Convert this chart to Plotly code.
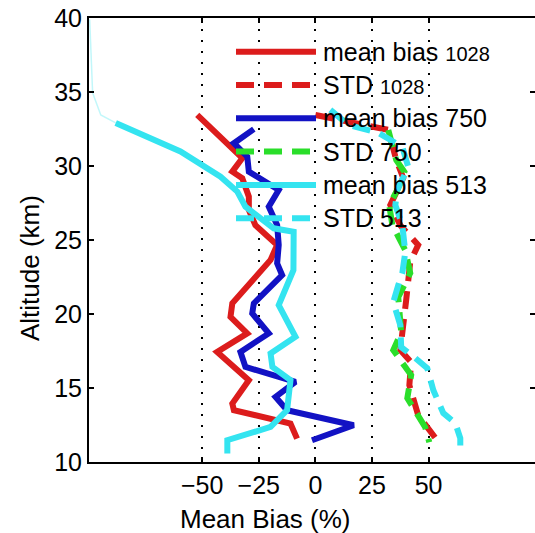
import plotly.graph_objects as go

# ---- data (altitude in km, bias/std in %) ----
mb1028_alt = [33.45, 30.53, 29.62, 29.17, 27.93, 27.03, 26.0, 24.66, 23.65, 20.72, 19.81, 18.69, 17.44, 15.53, 13.95, 13.5, 12.6, 11.58]
mb1028_val = [-52.2, -32.3, -36.7, -32.3, -29.4, -29.4, -26.5, -16.9, -19.8, -36.7, -37.5, -30.1, -43.4, -29.4, -36.7, -36.0, -11.0, -8.1]

std1028_alt = [33.45, 32.92, 32.44, 30.41, 29.2, 27.36, 26.0, 24.66, 23.52, 20.94, 17.56, 16.75, 15.19, 13.16, 12.14, 11.47]
std1028_val = [0.0, 15.4, 32.2, 35.7, 38.8, 33.1, 37.5, 45.4, 41.9, 40.1, 37.5, 42.3, 41.5, 45.4, 50.7, 53.8]

mb750_alt = [32.49, 31.54, 30.64, 29.62, 28.38, 27.25, 26.01, 24.66, 23.42, 22.63, 20.72, 20.04, 18.69, 17.44, 16.43, 15.41, 14.40, 13.50, 12.48, 11.47]
mb750_val = [-27.2, -36.0, -30.1, -29.4, -16.2, -20.6, -16.9, -16.2, -16.9, -14.7, -27.2, -27.9, -20.6, -33.1, -30.9, -8.8, -17.6, -12.5, 16.9, -1.5]

std750_alt = [32.44, 30.41, 29.6, 28.38, 27.36, 26.0, 24.3, 22.77, 21.13, 18.76, 17.56, 15.87, 14.31, 13.3, 12.35, 11.34]
std750_val = [32.2, 35.7, 39.3, 36.2, 32.6, 34.0, 39.7, 41.9, 36.6, 37.9, 34.4, 42.3, 40.6, 45.0, 48.5, 50.3]

mb513_alt = [32.91, 30.98, 29.28, 28.27, 27.25, 25.79, 25.56, 22.97, 20.60, 18.46, 17.33, 16.43, 15.53, 13.50, 12.37, 11.47, 10.57]
mb513_val = [-88.2, -59.6, -41.9, -34.5, -30.9, -18.4, -9.6, -9.7, -16.2, -8.8, -19.8, -19.0, -11.0, -12.5, -19.8, -38.9, -38.9]
mb513_top_alt = [39.9, 34.95, 33.45, 32.91]
mb513_top_val = [-99.7, -98.4, -94.8, -88.2]

std513_alt = [33.79, 32.78, 32.24, 31.29, 29.94, 28.38, 27.36, 26.0, 24.18, 22.77, 21.95, 20.80, 19.24, 17.76, 17.02, 16.34, 14.85, 13.3, 12.62, 11.6, 10.58]
std513_val = [6.6, 14.6, 27.8, 38.4, 41.0, 36.2, 35.3, 38.4, 39.7, 38.4, 36.6, 34.4, 37.5, 37.9, 44.1, 49.4, 52.1, 56.5, 61.8, 64.0, 64.0]

x_ticks = [-50, -25, 0, 25, 50]
x_ticktext = ["\u221250", "\u221225", "0", "25", "50"]
y_ticks = [10, 15, 20, 25, 30, 35, 40]

RED = "#dc1c1c"
BLUE = "#1212c4"
GREEN = "#2ade2a"
CYAN = "#34e4f0"
DASH = "18px,10px"
LW = 6

series = [
    ("mean bias 1028", mb1028_val, mb1028_alt, RED, "solid"),
    ("STD 1028", std1028_val, std1028_alt, RED, DASH),
    ("mean bias 750", mb750_val, mb750_alt, BLUE, "solid"),
    ("STD 750", std750_val, std750_alt, GREEN, DASH),
    ("mean bias 513", mb513_val, mb513_alt, CYAN, "solid"),
    ("STD 513", std513_val, std513_alt, CYAN, DASH),
]

fig = go.Figure()
fig.add_trace(go.Scatter(x=mb513_top_val, y=mb513_top_alt, mode="lines",
                         line=dict(color="rgba(52,228,240,0.3)", width=1.5),
                         showlegend=False, hoverinfo="skip"))
for name, xv, yv, col, dash in series:
    fig.add_trace(go.Scatter(x=xv, y=yv, mode="lines", name=name,
                             line=dict(color=col, width=LW, dash=dash),
                             showlegend=False))

# ---- manual legend (long sample lines as in the original) ----
legend_labels = [
    "mean bias <span style='font-size:20px'>1028</span>",
    "STD <span style='font-size:20px'>1028</span>",
    "mean bias 750",
    "STD 750",
    "mean bias 513",
    "STD 513",
]
W, H = 535, 533
L, R, T, B = 89.0, 535.0, 18.0, 462.0
def px_x(p):
    return (p - L) / (R - L)
def px_y(p):
    return (B - p) / (B - T)

shapes = []
annotations = []
for i, (s, lab) in enumerate(zip(series, legend_labels)):
    yy = px_y(51.7 + i * 33.3)
    shapes.append(dict(type="line", xref="paper", yref="paper",
                       x0=px_x(236), x1=px_x(316), y0=yy, y1=yy,
                       line=dict(color=s[3], width=LW, dash=s[4])))
    annotations.append(dict(xref="paper", yref="paper", x=px_x(322), y=yy,
                            text=lab, showarrow=False, xanchor="left", yanchor="middle",
                            borderpad=0, font=dict(size=25, color="black")))

# axis titles
annotations.append(dict(xref="paper", yref="paper", x=px_x(265), y=px_y(519),
                        text="Mean Bias (%)", showarrow=False, xanchor="center", yanchor="middle",
                        font=dict(size=26, color="black")))
annotations.append(dict(xref="paper", yref="paper", x=px_x(30), y=px_y(268),
                        text="Altitude (km)", showarrow=False, textangle=-90,
                        xanchor="center", yanchor="middle",
                        font=dict(size=26, color="black")))

fig.update_layout(
    width=W, height=H,
    margin=dict(l=L, r=0, t=T, b=H - B),
    paper_bgcolor="white", plot_bgcolor="white",
    font=dict(family="Liberation Sans, Arial, sans-serif", color="black"),
    shapes=shapes, annotations=annotations,
    showlegend=False,
)
fig.update_xaxes(range=[-100, 97], tickvals=x_ticks, ticktext=x_ticktext, automargin=False,
                 showgrid=True, gridcolor="black", gridwidth=1.5, griddash="2px,9px",
                 zeroline=False, showline=True, linecolor="black", linewidth=2, mirror="ticks",
                 ticks="inside", ticklen=5, tickcolor="black", tickwidth=1.5,
                 ticklabeloverflow="allow", tickfont=dict(size=25))
fig.update_yaxes(range=[10, 40], tickvals=y_ticks, showgrid=False, zeroline=False, automargin=False,
                 showline=True, linecolor="black", linewidth=2, mirror="ticks",
                 ticks="inside", ticklen=5, tickcolor="black", tickwidth=1.5,
                 ticklabeloverflow="allow", tickfont=dict(size=25))

fig.write_html("out.html", config={"displayModeBar": False},
               post_script="document.body.style.margin='0';document.body.style.overflow='hidden';")
